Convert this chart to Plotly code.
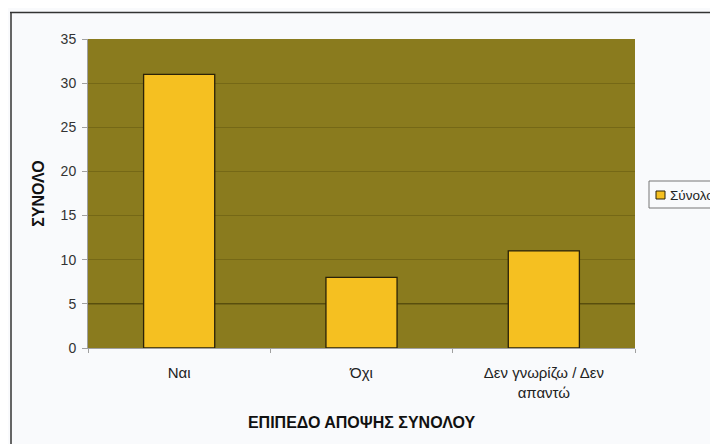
import plotly.graph_objects as go

categories = ["Ναι", "Όχι", "Δεν γνωρίζω / Δεν<br>απαντώ"]
values = [31, 8, 11]
series_name = "Σύνολο"
y_ticks = [0, 5, 10, 15, 20, 25, 30, 35]

# the page body has an 8px margin, so the figure is drawn 8px in
OFF = 8
W, H = 718 - OFF, 444 - OFF
L, T = 88 - OFF, 39 - OFF
R = W - (635 - OFF)
B = H - (348 - OFF)
pw, ph = W - L - R, H - T - B

def px(sx):  # screen x -> paper
    return (sx - OFF - L) / pw

def py(sy):  # screen y -> paper
    return (H - B - (sy - OFF)) / ph

FONT = "Liberation Sans, Arial, sans-serif"

fig = go.Figure()
fig.add_trace(go.Bar(
    x=categories, y=values, name=series_name,
    marker=dict(color="#f5c021", line=dict(color="#2a2208", width=1.3)),
    width=0.39, showlegend=False,
))

fig.update_layout(
    width=W, height=H,
    margin=dict(l=L, r=R, t=T, b=B, autoexpand=False),
    paper_bgcolor="#f9fafc",
    plot_bgcolor="#8a7b1e",
    font=dict(family=FONT, size=14, color="#222"),
    showlegend=False,
)
fig.update_xaxes(
    title=dict(text="<b>ΕΠΙΠΕΔΟ ΑΠΟΨΗΣ ΣΥΝΟΛΟΥ</b>", font=dict(size=16, color="#111"), standoff=17),
    showline=True, linecolor="#a0a0a0", linewidth=1,
    ticks="outside", tickson="boundaries", ticklen=4, tickcolor="#a0a0a0",
    ticklabelstandoff=11,
    showgrid=False, tickfont=dict(size=15, color="#222"),
)
fig.update_yaxes(
    title=dict(text="<b>ΣΥΝΟΛΟ</b>", font=dict(size=16, color="#111"), standoff=12),
    range=[0, 35], tickvals=y_ticks, ticktext=[str(v) for v in y_ticks],
    showline=True, linecolor="#a0a0a0", linewidth=1,
    ticks="outside", ticklen=5, tickcolor="#a0a0a0",
    ticklabelstandoff=3,
    showgrid=True, gridcolor="rgba(70,60,5,0.3)", gridwidth=1,
    zeroline=False, tickfont=dict(size=14, color="#333"),
)
# darker gridline at 5 as in the reference
fig.add_hline(y=y_ticks[1], line=dict(color="#4a420c", width=1), layer="below")

# outer chart frame
fig.add_shape(type="line", xref="paper", yref="paper",
              x0=px(10), x1=px(718), y0=py(12.5), y1=py(12.5),
              line=dict(color="#333", width=1.5))
fig.add_shape(type="line", xref="paper", yref="paper",
              x0=px(11), x1=px(11), y0=py(12.5), y1=py(444),
              line=dict(color="#333", width=1.5))

# legend box (drawn to match the reference's clipped legend)
fig.add_shape(type="rect", xref="paper", yref="paper",
              x0=px(649), x1=px(725), y0=py(208), y1=py(181),
              line=dict(color="#777", width=1), fillcolor="#f9fafc")
fig.add_shape(type="rect", xref="paper", yref="paper",
              x0=px(656), x1=px(665), y0=py(199), y1=py(191),
              line=dict(color="#2a2208", width=1), fillcolor="#f5c021")
fig.add_annotation(xref="paper", yref="paper", x=px(668), y=py(195),
                   xanchor="left", yanchor="middle", showarrow=False,
                   text=series_name, font=dict(family=FONT, size=13.5, color="#222"))

fig.write_html("out.html")
